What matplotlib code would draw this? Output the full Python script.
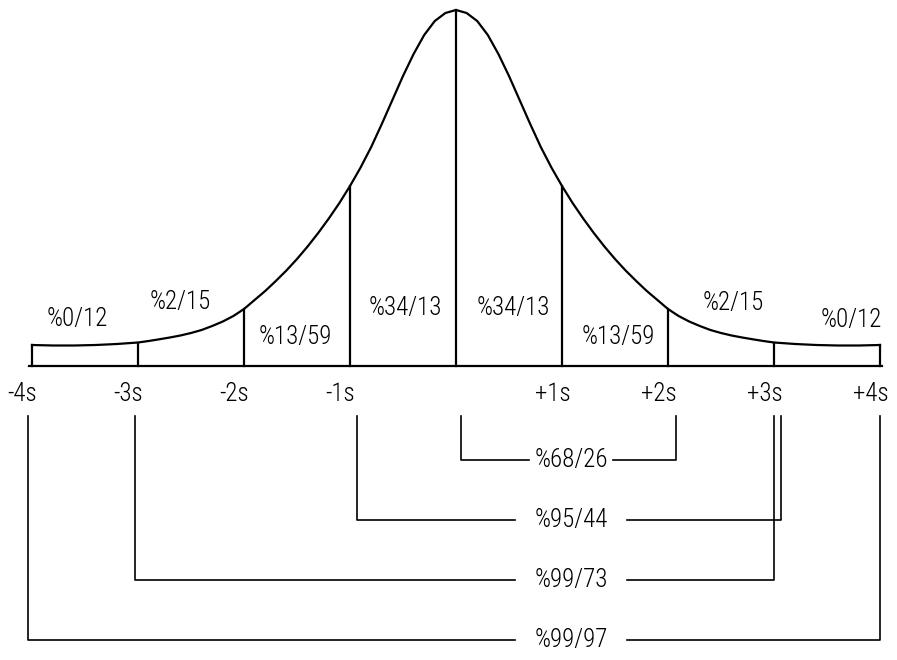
import numpy as np
import matplotlib.pyplot as plt

plt.rcParams['font.family'] = ['Roboto Condensed', 'Liberation Sans Narrow', 'DejaVu Sans']
plt.rcParams['font.stretch'] = 'condensed'
plt.rcParams['font.weight'] = 'light'

# one half of the bell: distance from the mean (in s) and height of the curve
half_s = [0.0, 0.1, 0.2, 0.3, 0.4, 0.5, 0.6, 0.7, 0.8, 0.9, 1.0,
          1.1, 1.2, 1.3, 1.4, 1.5, 1.6, 1.7, 1.8, 1.9, 2.0,
          2.1, 2.2, 2.3, 2.4, 2.5, 2.6, 2.7, 2.8, 2.9, 3.0,
          3.2, 3.4, 3.6, 3.8, 4.0]
half_h = [356, 353, 345, 331, 312, 290, 266, 242, 219, 198.5, 180,
          163, 147.5, 133, 119.5, 107, 95.5, 85, 75, 66, 57,
          50, 44.5, 40, 36, 33, 30.5, 28.5, 26.7, 25, 23.5,
          22, 21, 20.5, 20.5, 21]

ticks = [-4, -3, -2, -1, 1, 2, 3, 4]
tick_labels = ['-4s', '-3s', '-2s', '-1s', '+1s', '+2s', '+3s', '+4s']

# share of the area in each band of one s
band_labels = ['%0/12', '%2/15', '%13/59', '%34/13', '%34/13', '%13/59', '%2/15', '%0/12']

# ranges under the axis: label, left end, right end (in s)
range_labels = ['%68/26', '%95/44', '%99/73', '%99/97']
range_lo = [0.05, -0.93, -3.03, -4.04]
range_hi = [2.08, 3.07, 3.00, 4.00]

# label placement for the bands (in s, height)
band_x = [-3.57, -2.60, -1.52, -0.48, 0.54, 1.53, 2.62, 3.73]
band_y = [47, 64, 29, 58, 58, 29, 63, 46]
range_y = [-94, -154, -214, -274]
range_gap = [0.40, 0.53, 0.53, 0.53]
text_x = 1.085

xs = np.concatenate([-np.array(half_s[::-1]), np.array(half_s[1:])])
hs = np.concatenate([np.array(half_h[::-1]), np.array(half_h[1:])])

fig = plt.figure(figsize=(8.97, 6.60), dpi=100)
ax = fig.add_axes([0, 0, 1, 1])
ax.set_xlim(-456 / 106, 441 / 106)
ax.set_ylim(-294, 366)
ax.axis('off')

lw = 1.6
ax.plot(xs, hs, color='black', lw=lw, solid_joinstyle='round')
ax.plot([-4.03, 4.02], [0, 0], color='black', lw=lw)

for s in range(-4, 5):
    top = np.interp(s, xs, hs)
    ax.plot([s, s], [0, top], color='black', lw=lw)

fs = 18
for s, lab in zip(ticks, tick_labels):
    ax.text(s - 0.09, -28, lab, ha='center', va='center', fontsize=fs)

for x, y, lab in zip(band_x, band_y, band_labels):
    ax.text(x, y, lab, ha='center', va='center', fontsize=fs)

for lab, lo, hi, y, gap in zip(range_labels, range_lo, range_hi, range_y, range_gap):
    ax.plot([lo, lo, text_x - gap], [-50, y, y], color='black', lw=1.2)
    ax.plot([text_x + gap, hi, hi], [y, y, -50], color='black', lw=1.2)
    ax.text(text_x, y, lab, ha='center', va='center', fontsize=fs)

fig.savefig('out.png', dpi=100)
